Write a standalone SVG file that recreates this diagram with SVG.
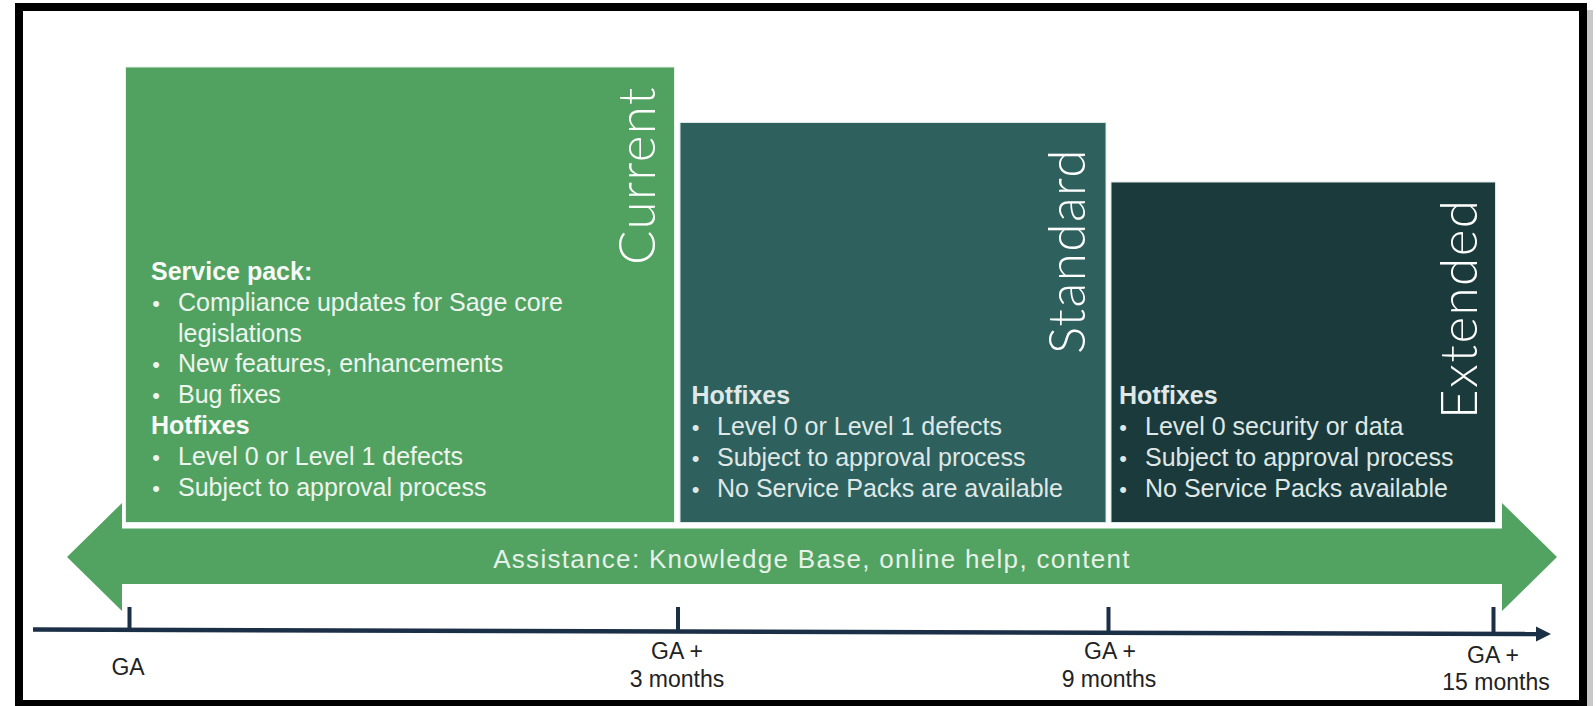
<svg xmlns="http://www.w3.org/2000/svg" width="1596" height="706" viewBox="0 0 1596 706">
<style>
.body{font-family:"Liberation Sans",Arial,sans-serif;font-size:25px;fill:#eef5ef}
.bold{font-family:"Liberation Sans",Arial,sans-serif;font-size:25px;font-weight:bold;fill:#f7faf7}
.bul{font-family:"Liberation Sans",Arial,sans-serif;font-size:22px;fill:#eef5ef;text-anchor:middle}
.lt{fill:#dfe8e6}
.vert{font-family:Lato,"Open Sans",sans-serif;font-weight:300;font-size:51px;letter-spacing:1.5px;fill:#ffffff}
.axl{font-family:"Liberation Sans",Arial,sans-serif;font-size:23px;fill:#222222;text-anchor:middle}
.tick{stroke:#1b2f47;stroke-width:4;fill:none}
</style>
<rect x="0" y="0" width="1596" height="706" fill="#ffffff"/>
<rect x="1587" y="10" width="6" height="696" fill="#c8c8c8"/>
<rect x="19" y="7" width="1564" height="697" fill="none" stroke="#000000" stroke-width="8"/>

<g id="current">
<rect x="125.5" y="67" width="549" height="455.5" fill="#51a261" stroke="#e8f2ea" stroke-width="1"/>
<text class="vert" transform="translate(655,265) rotate(-90)">Current</text>
<text class="bold" x="151" y="280">Service pack:</text>
<text class="bul" x="156" y="310.8">•</text><text class="body" x="178" y="310.8">Compliance updates for Sage core</text>
<text class="body" x="178" y="341.6">legislations</text>
<text class="bul" x="156" y="372.4">•</text><text class="body" x="178" y="372.4">New features, enhancements</text>
<text class="bul" x="156" y="403.2">•</text><text class="body" x="178" y="403.2">Bug fixes</text>
<text class="bold" x="151" y="434">Hotfixes</text>
<text class="bul" x="156" y="464.8">•</text><text class="body" x="178" y="464.8">Level 0 or Level 1 defects</text>
<text class="bul" x="156" y="495.6">•</text><text class="body" x="178" y="495.6">Subject to approval process</text>
</g>

<g id="standard">
<rect x="680" y="122.5" width="426" height="400" fill="#2e605e" stroke="#dde7e5" stroke-width="1"/>
<text class="vert" transform="translate(1085,354) rotate(-90)">Standard</text>
<text class="bold lt" x="691.5" y="404">Hotfixes</text>
<text class="bul lt" x="695.5" y="434.5">•</text><text class="body lt" x="717" y="434.5">Level 0 or Level 1 defects</text>
<text class="bul lt" x="695.5" y="465.5">•</text><text class="body lt" x="717" y="465.5">Subject to approval process</text>
<text class="bul lt" x="695.5" y="496.5">•</text><text class="body lt" x="717" y="496.5">No Service Packs are available</text>
</g>

<g id="extended">
<rect x="1111" y="182" width="384.5" height="340.5" fill="#1b3a3b" stroke="#dde7e5" stroke-width="1"/>
<text class="vert" transform="translate(1477,419) rotate(-90)">Extended</text>
<text class="bold lt" x="1119" y="404">Hotfixes</text>
<text class="bul lt" x="1123" y="434.5">•</text><text class="body lt" x="1145" y="434.5">Level 0 security or data</text>
<text class="bul lt" x="1123" y="465.5">•</text><text class="body lt" x="1145" y="465.5">Subject to approval process</text>
<text class="bul lt" x="1123" y="496.5">•</text><text class="body lt" x="1145" y="496.5">No Service Packs available</text>
</g>

<g id="assistance">
<polygon points="67,557 122,503 122,528.5 1502,528.5 1502,503 1557,557 1502,611 1502,584 122,584 122,611" fill="#52a362"/>
<text x="812" y="568" text-anchor="middle" style="font-family:'Liberation Sans',Arial,sans-serif;font-size:26px;letter-spacing:1.3px;fill:#e6f1e8">Assistance: Knowledge Base, online help, content</text>
</g>

<g id="connectors">
<line x1="33" y1="629.5" x2="1540" y2="634" stroke="#1b2f47" stroke-width="4.5"/>
<polygon points="1536,626.5 1551,634 1536,641.5" fill="#1b2f47"/>
<line class="tick" x1="129.5" y1="607" x2="129.5" y2="630"/>
<line class="tick" x1="678" y1="607" x2="678" y2="631.5"/>
<line class="tick" x1="1108.5" y1="607" x2="1108.5" y2="632.5"/>
<line class="tick" x1="1493.5" y1="607" x2="1493.5" y2="634"/>
</g>

<g id="axis-labels">
<text class="axl" x="128" y="675">GA</text>
<text class="axl" x="677" y="659">GA +</text>
<text class="axl" x="677" y="687">3 months</text>
<text class="axl" x="1110" y="659">GA +</text>
<text class="axl" x="1109" y="687">9 months</text>
<text class="axl" x="1493" y="663">GA +</text>
<text class="axl" x="1496" y="690">15 months</text>
</g>
</svg>
